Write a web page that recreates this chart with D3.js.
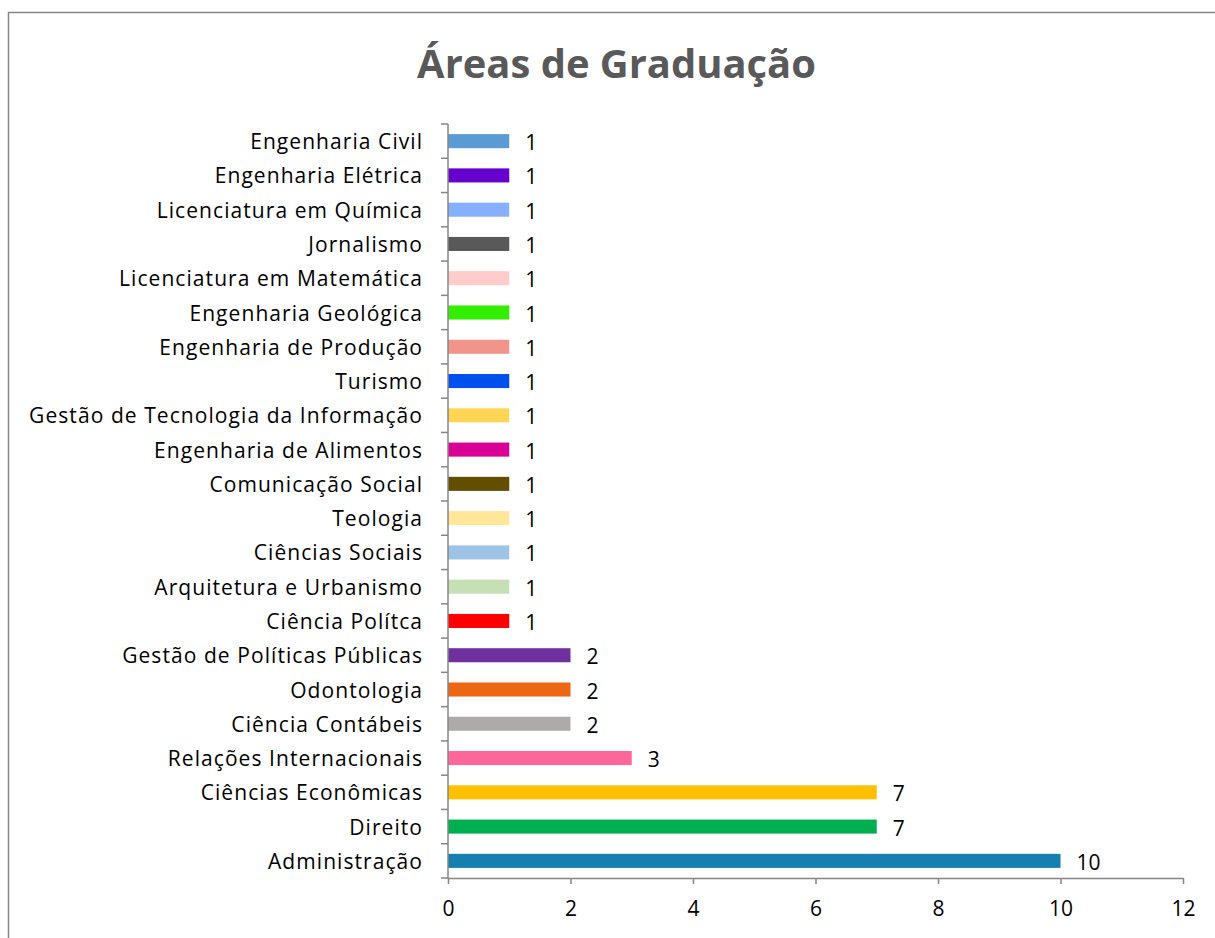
<!DOCTYPE html>
<html>
<head>
<meta charset="utf-8">
<script src="https://cdn.jsdelivr.net/npm/d3@7"></script>
<style>
  html, body { margin: 0; padding: 0; background: #fff; }
  svg { display: block; }
  text { font-family: "Open Sans", Lato, sans-serif; }
</style>
</head>
<body>
<script>
const categories = [
  "Engenharia Civil", "Engenharia Elétrica", "Licenciatura em Química", "Jornalismo",
  "Licenciatura em Matemática", "Engenharia Geológica", "Engenharia de Produção", "Turismo",
  "Gestão de Tecnologia da Informação", "Engenharia de Alimentos", "Comunicação Social", "Teologia",
  "Ciências Sociais", "Arquitetura e Urbanismo", "Ciência Polítca", "Gestão de Políticas Públicas",
  "Odontologia", "Ciência Contábeis", "Relações Internacionais", "Ciências Econômicas",
  "Direito", "Administração"
];
const values = [1, 1, 1, 1, 1, 1, 1, 1, 1, 1, 1, 1, 1, 1, 1, 2, 2, 2, 3, 7, 7, 10];
const colors = [
  "#5B9BD5", "#6600CC", "#87AFFF", "#595959", "#FFCCCC", "#33EE00", "#F1958A", "#0050EE",
  "#FFD555", "#D90095", "#634E00", "#FFE699", "#9DC3E6", "#C5E0B4", "#FF0000", "#7030A0",
  "#EC6614", "#AEAAAA", "#FF6699", "#FFC000", "#00B050", "#157FB0"
];
const xTicks = [0, 2, 4, 6, 8, 10, 12];
const title = "Áreas de Graduação";

const W = 1215, H = 938;
const svg = d3.select("body").append("svg").attr("width", W).attr("height", H);

svg.append("rect").attr("x", 8.5).attr("y", 12.5).attr("width", W + 10).attr("height", H + 10)
  .attr("fill", "none").attr("stroke", "#868686").attr("stroke-width", 1.5);

// measure text width at a given size
function measure(txt, weight, size) {
  const t = svg.append("text").attr("font-size", size).attr("font-weight", weight).text(txt);
  const w = t.node().getComputedTextLength();
  t.remove();
  return w;
}
const labelSize = 21;
const longest = "Gestão de Tecnologia da Informação";
const spacing = Math.max(0, (394 - measure(longest, "normal", labelSize)) / longest.length);
const titleSize = 40 * 399 / measure(title, "bold", 40);

svg.append("text").attr("x", 616.5).attr("y", 78).attr("text-anchor", "middle")
  .attr("font-size", titleSize).attr("font-weight", "bold").attr("fill", "#595959").text(title);

const x = d3.scaleLinear().domain([0, 12]).range([448, 1183]);
const y = d3.scaleBand().domain(categories).range([124, 878]).paddingInner(0.59).paddingOuter(0.295);

const data = categories.map((c, i) => ({ c, v: values[i], col: colors[i] }));

svg.selectAll("rect.bar").data(data).enter().append("rect").attr("class", "bar")
  .attr("x", x(0)).attr("y", d => y(d.c)).attr("width", d => x(d.v) - x(0))
  .attr("height", y.bandwidth()).attr("fill", d => d.col);

svg.selectAll("text.val").data(data).enter().append("text").attr("class", "val")
  .attr("x", d => x(d.v) + 16).attr("y", d => y(d.c) + y.bandwidth() / 2 + 9)
  .attr("font-size", labelSize).attr("fill", "#000").text(d => d.v);

// y axis
const yAxis = svg.append("g").attr("transform", `translate(${x(0)},0)`);
yAxis.append("line").attr("x1", 0).attr("x2", 0).attr("y1", 124).attr("y2", 878)
  .attr("stroke", "#868686").attr("stroke-width", 1.5);
const step = y.step();
const bounds = d3.range(categories.length + 1).map(i => 124 + i * step);
yAxis.selectAll("line.tk").data(bounds).enter().append("line").attr("class", "tk")
  .attr("x1", -7).attr("x2", 0).attr("y1", d => d).attr("y2", d => d)
  .attr("stroke", "#868686").attr("stroke-width", 1.5);
yAxis.selectAll("text.lbl").data(categories).enter().append("text").attr("class", "lbl")
  .attr("x", -26 + spacing).attr("y", d => y(d) + y.bandwidth() / 2 + 8)
  .attr("text-anchor", "end").attr("font-size", labelSize).attr("letter-spacing", spacing)
  .attr("fill", "#000").text(d => d);

// x axis
const xAxis = svg.append("g").attr("transform", "translate(0,878)")
  .call(d3.axisBottom(x).tickValues(xTicks).tickSize(6).tickSizeOuter(0).tickPadding(17));
xAxis.select(".domain").attr("stroke", "#868686").attr("stroke-width", 1.5);
xAxis.selectAll(".tick line").attr("stroke", "#868686").attr("stroke-width", 1.5);
xAxis.selectAll(".tick text").attr("font-size", labelSize).attr("fill", "#000")
  .style("font-family", "'Open Sans', Lato, sans-serif");
</script>
</body>
</html>
